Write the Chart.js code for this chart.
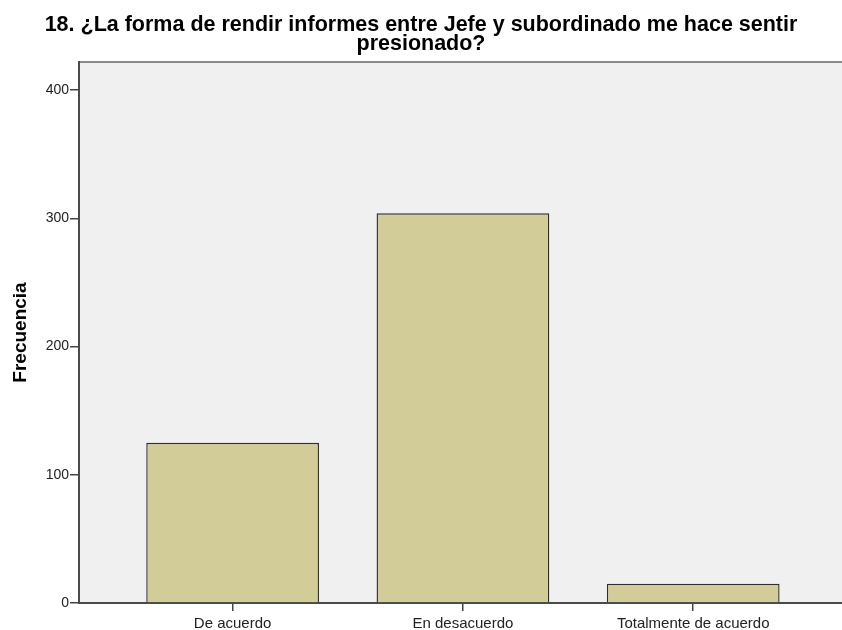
<!DOCTYPE html>
<html>
<head>
<meta charset="utf-8">
<script src="https://cdn.jsdelivr.net/npm/chart.js@4/dist/chart.umd.min.js"></script>
<style>
  html, body { margin: 0; padding: 0; background: #ffffff; }
  #wrap { width: 842px; height: 630px; }
</style>
</head>
<body>
<div id="wrap"><canvas id="chart" width="842" height="630"></canvas></div>
<script>
// Survey item 18: frequency of each answer
const categories = ['De acuerdo', 'En desacuerdo', 'Totalmente de acuerdo'];
const frecuencia = [125, 304, 15];
const yTicks = [0, 100, 200, 300, 400];
const titleLines = ['18. ¿La forma de rendir informes entre Jefe y subordinado me hace sentir', 'presionado?'];
const yTitle = 'Frecuencia';

const FONT = "'Liberation Sans', Arial, sans-serif";

// Grey plot panel with a thin top frame line
const panel = {
  id: 'panel',
  beforeDraw(chart) {
    const { ctx, chartArea: a } = chart;
    ctx.save();
    ctx.fillStyle = '#f0f0f0';
    ctx.fillRect(a.left, a.top, a.right - a.left, a.bottom - a.top);
    ctx.strokeStyle = '#8a8a8a';
    ctx.lineWidth = 2;
    ctx.beginPath();
    ctx.moveTo(a.left, a.top);
    ctx.lineTo(a.right, a.top);
    ctx.stroke();
    ctx.restore();
  }
};

new Chart(document.getElementById('chart'), {
  type: 'bar',
  data: {
    datasets: [{
      data: frecuencia.map((v, i) => ({ x: i, y: v })),
      backgroundColor: '#d2cd98',
      borderColor: '#2e2e2e',
      borderWidth: 1.4,
      borderSkipped: 'bottom',
      categoryPercentage: 1,
      barPercentage: 0.75
    }]
  },
  options: {
    responsive: false,
    animation: false,
    layout: { padding: 0 },
    plugins: {
      legend: { display: false },
      tooltip: { enabled: false },
      title: {
        display: true,
        text: titleLines,
        color: '#000000',
        font: { family: FONT, size: 21.5, weight: 'bold', lineHeight: 0.86 },
        padding: { top: 16.2, bottom: 8.8 }
      }
    },
    scales: {
      x: {
        type: 'linear',
        offset: false,
        min: -0.667,
        max: 2.646,
        afterBuildTicks(scale) { scale.ticks = categories.map((c, i) => ({ value: i })); },
        afterFit(scale) { scale.height = 27; },
        ticks: {
          autoSkip: false,
          maxRotation: 0,
          padding: 4,
          color: '#222222',
          font: { family: FONT, size: 15 },
          callback: (v) => categories[v]
        },
        grid: { offset: false, drawOnChartArea: false, drawTicks: true, tickLength: 8, color: '#444444', lineWidth: 1.5 },
        border: { display: true, color: '#4a4a4a', width: 2 }
      },
      y: {
        min: 0,
        max: 422,
        afterBuildTicks(scale) { scale.ticks = yTicks.map(v => ({ value: v })); },
        afterFit(scale) { scale.width = 79; },
        ticks: {
          padding: 1,
          color: '#222222',
          font: { family: FONT, size: 14 }
        },
        grid: { drawOnChartArea: false, drawTicks: true, tickLength: 9, color: '#444444', lineWidth: 1.5 },
        border: { display: true, color: '#4a4a4a', width: 2 },
        title: {
          display: true,
          text: yTitle,
          color: '#000000',
          font: { family: FONT, size: 19, weight: 'bold' },
          padding: { top: 9, bottom: 0 }
        }
      }
    }
  },
  plugins: [panel]
});
</script>
</body>
</html>
